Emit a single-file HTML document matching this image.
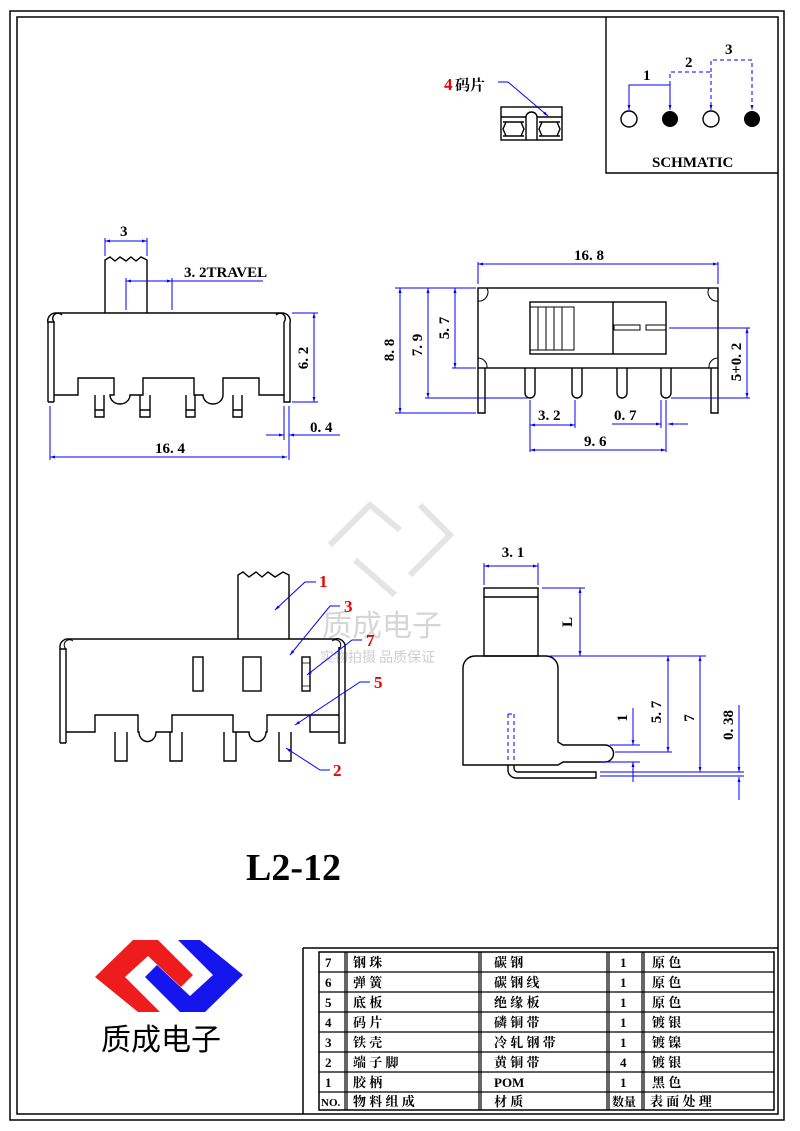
<!DOCTYPE html>
<html><head><meta charset="utf-8"><style>
html,body{margin:0;padding:0;background:#fff}
svg{display:block}
.k{stroke:#000;stroke-width:1.4;fill:none}
.b{stroke:#0000ff;stroke-width:1;fill:none}
.t{font-family:"Liberation Serif","Noto Serif CJK SC",serif;font-weight:bold;font-size:15px;fill:#000}
.r{font-family:"Liberation Serif",serif;font-weight:bold;font-size:17px;fill:#e00}
.tb{font-family:"Liberation Serif","Noto Serif CJK SC",serif;font-weight:bold;font-size:13px;fill:#000}
</style></head><body>
<svg width="800" height="1131" viewBox="0 0 800 1131" xmlns="http://www.w3.org/2000/svg">
<defs>
<marker id="a" viewBox="0 0 10 10" refX="10" refY="5" markerWidth="9" markerHeight="5" orient="auto-start-reverse"><path d="M0,2 L10,5 L0,8z" fill="#00f"/></marker>
</defs>
<rect x="10" y="11" width="774" height="1109" fill="none" stroke="#000" stroke-width="1.5"/>
<rect x="17" y="17" width="761" height="1097" fill="none" stroke="#000" stroke-width="1.5"/>

<!-- schematic -->
<polyline points="606,17 606,173 778,173" class="k"/>
<g class="b" stroke-width="1.5">
<polyline points="629,110 629,85 670,85 670,110" marker-start="url(#a)" marker-end="url(#a)"/>
<polyline points="670,85 670,72 711,72 711,110" stroke-dasharray="4,3" marker-end="url(#a)"/>
<polyline points="711,72 711,60 752,60 752,110" stroke-dasharray="4,3" marker-end="url(#a)"/>
</g>
<circle cx="629" cy="119" r="8" class="k" fill="#fff"/>
<circle cx="670" cy="119" r="8" fill="#000"/>
<circle cx="711" cy="119" r="8" class="k" fill="#fff"/>
<circle cx="752" cy="119" r="8" fill="#000"/>
<text x="643" y="80" class="t" font-size="21">1</text>
<text x="685" y="67" class="t" font-size="21">2</text>
<text x="725" y="54" class="t" font-size="21">3</text>
<text x="652" y="167" class="t" font-size="13">SCHMATIC</text>

<!-- 4码片 -->
<text x="444" y="90" class="r">4</text><text x="455" y="90" class="t" font-size="16">码片</text>
<polyline points="498,82 508,82 548,116" class="b" marker-end="url(#a)"/>
<rect x="501" y="107" width="61" height="33" class="k"/>
<path d="M501,117 H526 V140 M537,140 V117 H562 M526,117 a5.5,5 0 0 1 11,0" class="k" stroke-width="1"/>
<path d="M503,122 H524 M503,136 H524 M539,122 H560 M539,136 H560 M506,122 L503,129 L506,136 M521,122 L524,129 L521,136 M542,122 L539,129 L542,136 M557,122 L560,129 L557,136" class="k" stroke-width="0.8"/>

<!-- left front view -->
<g class="k">
<path d="M105,313 V260 L110,257 L115,261 L120,257 L126,261 L131,257 L136,261 L141,257 L147,260 V313"/>
<path d="M48,402 V323 a8,8 0 0 1 8,-10 H282 a8,8 0 0 1 8,10 V402 H284 V322 M54,402 V322 H48 M48,402 H54 M54,395 H78 V378 H114 V395 H110 a10,9 0 0 0 20,0 H143 V378 H194 V395 H203 a10,9 0 0 0 20,0 V378 H259 V395 H284"/>
<path d="M54,322 a5,5 0 0 1 8,-7 M284,322 a5,5 0 0 0 -8,-7"/>
<path d="M95,395 V417 H104 V395 M95,410 H104 M140,395 V417 H150 V395 M140,410 H150 M186,395 V417 H195 V395 M186,410 H195 M233,395 V417 H242 V395 M233,410 H242"/>
</g>
<g class="b">
<line x1="105" y1="238" x2="105" y2="256"/><line x1="147" y1="238" x2="147" y2="256"/>
<line x1="105" y1="241" x2="147" y2="241" marker-start="url(#a)" marker-end="url(#a)"/>
<line x1="126" y1="278" x2="126" y2="310"/><line x1="172" y1="278" x2="172" y2="310"/>
<line x1="126" y1="281" x2="172" y2="281" marker-start="url(#a)" marker-end="url(#a)"/>
<line x1="172" y1="281" x2="263" y2="281"/>
<line x1="292" y1="313" x2="318" y2="313"/><line x1="292" y1="402" x2="318" y2="402"/>
<line x1="314" y1="313" x2="314" y2="402" marker-start="url(#a)" marker-end="url(#a)"/>
<line x1="284" y1="406" x2="284" y2="440"/><line x1="289" y1="406" x2="289" y2="460"/>
<line x1="266" y1="435" x2="284" y2="435" marker-end="url(#a)"/>
<line x1="307" y1="435" x2="289" y2="435" marker-end="url(#a)"/><line x1="307" y1="435" x2="340" y2="435"/>
<line x1="50" y1="406" x2="50" y2="460"/>
<line x1="50" y1="457" x2="287" y2="457" marker-start="url(#a)" marker-end="url(#a)"/>
</g>
<text x="120" y="236" class="t">3</text>
<text x="184" y="277" class="t">3. 2TRAVEL</text>
<text x="308" y="358" class="t" transform="rotate(-90 308 358)" text-anchor="middle">6. 2</text>
<text x="310" y="432" class="t">0. 4</text>
<text x="155" y="453" class="t">16. 4</text>

<!-- right top view -->
<g class="k">
<rect x="478" y="288" width="240" height="80"/>
<path d="M478,368 V413 H485 V368 M711,368 V413 H718 V368"/>
<path d="M478,301 a9,9 0 0 0 9,-13 M718,301 a9,9 0 0 1 -9,-13 M478,358 a9,9 0 0 1 9,10 M718,358 a9,9 0 0 0 -9,10" stroke-width="1"/>
<rect x="530" y="302" width="136" height="52"/>
<line x1="613" y1="302" x2="613" y2="354"/>
<rect x="530" y="307" width="44" height="43" stroke-width="1"/>
<path d="M538,307 V350 M546,307 V350 M554,307 V350 M562,307 V350" stroke-width="1"/>
<rect x="614" y="325" width="26" height="5" stroke-width="1"/>
<rect x="646" y="325" width="20" height="5" stroke-width="1"/>
<path d="M525,368 V393 a5,5 0 0 0 10,0 V368 M572,368 V393 a5,5 0 0 0 10,0 V368 M617,368 V393 a5,5 0 0 0 10,0 V368 M661,368 V393 a5,5 0 0 0 10,0 V368"/>
</g>
<g class="b">
<line x1="478" y1="262" x2="478" y2="284"/><line x1="718" y1="262" x2="718" y2="284"/>
<line x1="478" y1="264" x2="718" y2="264" marker-start="url(#a)" marker-end="url(#a)"/>
<line x1="395" y1="288" x2="476" y2="288"/>
<line x1="395" y1="413" x2="476" y2="413"/><line x1="425" y1="398" x2="528" y2="398"/><line x1="452" y1="368" x2="476" y2="368"/>
<line x1="400" y1="288" x2="400" y2="413" marker-start="url(#a)" marker-end="url(#a)"/>
<line x1="428" y1="288" x2="428" y2="398" marker-start="url(#a)" marker-end="url(#a)"/>
<line x1="455" y1="288" x2="455" y2="368" marker-start="url(#a)" marker-end="url(#a)"/>
<line x1="669" y1="328" x2="750" y2="328"/><line x1="671" y1="398" x2="750" y2="398"/>
<line x1="747" y1="328" x2="747" y2="398" marker-start="url(#a)" marker-end="url(#a)"/>
<line x1="530" y1="400" x2="530" y2="452"/><line x1="575" y1="400" x2="575" y2="428"/>
<line x1="530" y1="425" x2="575" y2="425" marker-start="url(#a)" marker-end="url(#a)"/>
<line x1="661" y1="400" x2="661" y2="428"/><line x1="666" y1="400" x2="666" y2="452"/>
<line x1="612" y1="424" x2="661" y2="424" marker-end="url(#a)"/>
<line x1="688" y1="424" x2="668" y2="424" marker-end="url(#a)"/>
<line x1="530" y1="450" x2="666" y2="450" marker-start="url(#a)" marker-end="url(#a)"/>
</g>
<text x="574" y="260" class="t">16. 8</text>
<text x="394" y="350" class="t" transform="rotate(-90 394 350)" text-anchor="middle">8. 8</text>
<text x="422" y="345" class="t" transform="rotate(-90 422 345)" text-anchor="middle">7. 9</text>
<text x="449" y="328" class="t" transform="rotate(-90 449 328)" text-anchor="middle">5. 7</text>
<text x="741" y="362" class="t" transform="rotate(-90 741 362)" text-anchor="middle">5+0. 2</text>
<text x="538" y="420" class="t">3. 2</text>
<text x="614" y="420" class="t">0. 7</text>
<text x="584" y="446" class="t">9. 6</text>

<!-- watermark -->
<g fill="none" stroke="#e4e4e4" stroke-width="6">
<path d="M330,545 L370,505 L400,530 M420,505 L450,535 L410,575 M355,560 L395,595"/>
</g>
<text x="322" y="636" font-family="Noto Sans CJK SC,sans-serif" font-size="30" fill="#d6d6d6">质成电子</text>
<text x="320" y="662" font-family="Noto Sans CJK SC,sans-serif" font-size="14" fill="#cfcfcf">实物拍摄 品质保证</text>

<!-- lower left view -->
<g class="k">
<path d="M238,639 V575 L243,572 L249,577 L256,572 L262,577 L268,572 L275,577 L283,572 L289,575 V639"/>
<path d="M60,743 V648 a8,8 0 0 1 9,-9 H335 a8,8 0 0 1 10,9 V743 H339 V647 M66,743 V649 H60 M60,743 H66 M66,732 H95 V715 H138 V732 H139 a8,9 0 0 0 17,0 H172 V715 H233 V732 H249 a8,9 0 0 0 17,0 H267 V715 H310 V732 H339 V715 H310"/>
<path d="M66,649 a5,5 0 0 1 7,-8 M339,649 a5,5 0 0 0 -7,-8" stroke-width="1"/>
<rect x="193" y="657" width="10" height="34"/><rect x="243" y="657" width="18" height="34"/><rect x="302" y="657" width="8" height="34"/>
<path d="M302,663 H310 M302,686 H310" stroke-width="0.8"/>
<path d="M115,732 V761 H127 V732 M170,732 V761 H182 V732 M224,732 V761 H236 V732 M279,732 V761 H291 V732"/>
</g>
<g class="b">
<polyline points="316,582 305,582 275,610" marker-end="url(#a)"/>
<polyline points="340,606 330,606 290,655" marker-end="url(#a)"/>
<polyline points="362,640 352,640 307,675" marker-end="url(#a)"/>
<polyline points="370,682 360,682 295,725" marker-end="url(#a)"/>
<polyline points="330,770 320,770 286,748" marker-end="url(#a)"/>
</g>
<text x="319" y="587" class="r">1</text>
<text x="344" y="612" class="r">3</text>
<text x="366" y="646" class="r">7</text>
<text x="374" y="688" class="r">5</text>
<text x="333" y="776" class="r">2</text>

<!-- lower right side view -->
<g class="k">
<rect x="484" y="588" width="54" height="68"/>
<line x1="484" y1="597" x2="538" y2="597"/>
<path d="M463,765 V668 a12,12 0 0 1 12,-12 H546 a12,12 0 0 1 12,12 V742 L563,745 H605 a8.5,8.5 0 0 1 0,17 H563 L558,765 Z"/>
<path d="M508,765 V770 a8,8 0 0 0 8,8 H596 V772 H518 a4,4 0 0 1 -4,-4 V765"/>
<path d="M508,714 V760 M514,714 V760 M508,714 H514" stroke-width="1" stroke="#0000ff" stroke-dasharray="4,3"/>
</g>
<g class="b">
<line x1="484" y1="563" x2="484" y2="585"/><line x1="538" y1="563" x2="538" y2="585"/>
<line x1="484" y1="566" x2="538" y2="566" marker-start="url(#a)" marker-end="url(#a)"/>
<line x1="542" y1="588" x2="585" y2="588"/><line x1="550" y1="656" x2="706" y2="656"/>
<line x1="580" y1="588" x2="580" y2="656" marker-start="url(#a)" marker-end="url(#a)"/>
<line x1="610" y1="745" x2="640" y2="745"/><line x1="615" y1="752" x2="672" y2="752"/>
<line x1="633" y1="708" x2="633" y2="745" marker-end="url(#a)"/>
<line x1="600" y1="762" x2="640" y2="762"/>
<line x1="633" y1="770" x2="633" y2="762" marker-end="url(#a)"/><line x1="633" y1="770" x2="633" y2="782"/>
<line x1="668" y1="656" x2="668" y2="752" marker-start="url(#a)" marker-end="url(#a)"/>
<line x1="700" y1="656" x2="700" y2="772" marker-start="url(#a)" marker-end="url(#a)"/>
<line x1="600" y1="772" x2="744" y2="772"/><line x1="600" y1="776" x2="744" y2="776"/>
<line x1="739" y1="705" x2="739" y2="772" marker-end="url(#a)"/>
<line x1="739" y1="800" x2="739" y2="777" marker-end="url(#a)"/>
</g>
<text x="513" y="557" class="t" text-anchor="middle">3. 1</text>
<text x="572" y="622" class="t" transform="rotate(-90 572 622)" text-anchor="middle">L</text>
<text x="627" y="718" class="t" transform="rotate(-90 627 718)" text-anchor="middle">1</text>
<text x="661" y="712" class="t" transform="rotate(-90 661 712)" text-anchor="middle">5. 7</text>
<text x="694" y="718" class="t" transform="rotate(-90 694 718)" text-anchor="middle">7</text>
<text x="733" y="725" class="t" transform="rotate(-90 733 725)" text-anchor="middle">0. 38</text>

<text x="246" y="880" font-family="Liberation Serif,serif" font-weight="bold" font-size="38">L2-12</text>

<!-- logo -->
<polygon points="160,1012 138,1012 95,977 133,940 158,940 193,975 181,987 148,956 125,977" fill="#ee1c1c"/>
<polygon points="178,940 200,940 243,975 205,1012 180,1012 145,977 157,965 190,996 213,975" fill="#1515ee"/>
<text x="161" y="1050" text-anchor="middle" font-family="Noto Sans CJK SC,sans-serif" font-size="30" fill="#000">质成电子</text>

<!-- table -->
<g stroke="#000" fill="none">
<line x1="303" y1="948" x2="778" y2="948" stroke-width="1.5"/>
<line x1="303" y1="948" x2="303" y2="1114" stroke-width="1.5"/>
<rect x="319" y="952" width="455" height="158" stroke-width="1.5"/>
<path d="M345,952 V1110 M479,952 V1110 M607,952 V1110 M642,952 V1110 M347,952 V1110 M481,952 V1110 M609,952 V1110 M644,952 V1110" stroke-width="1.2"/>
<path d="M319,972 H774 M319,992 H774 M319,1012 H774 M319,1032 H774 M319,1052 H774 M319,1072 H774 M319,1092 H774" stroke-width="1.2"/>
</g>
<g class="tb">
<text x="325" y="967">7</text><text x="353" y="967">钢 珠</text><text x="494" y="967">碳 钢</text><text x="620" y="967">1</text><text x="652" y="967">原 色</text>
<text x="325" y="987">6</text><text x="353" y="987">弹 簧</text><text x="494" y="987">碳 钢 线</text><text x="620" y="987">1</text><text x="652" y="987">原 色</text>
<text x="325" y="1007">5</text><text x="353" y="1007">底 板</text><text x="494" y="1007">绝 缘 板</text><text x="620" y="1007">1</text><text x="652" y="1007">原 色</text>
<text x="325" y="1027">4</text><text x="353" y="1027">码 片</text><text x="494" y="1027">磷 铜 带</text><text x="620" y="1027">1</text><text x="652" y="1027">镀 银</text>
<text x="325" y="1047">3</text><text x="353" y="1047">铁 壳</text><text x="494" y="1047">冷 轧 钢 带</text><text x="620" y="1047">1</text><text x="652" y="1047">镀 镍</text>
<text x="325" y="1067">2</text><text x="353" y="1067">端 子 脚</text><text x="494" y="1067">黄 铜 带</text><text x="620" y="1067">4</text><text x="652" y="1067">镀 银</text>
<text x="325" y="1087">1</text><text x="353" y="1087">胶 柄</text><text x="494" y="1087">POM</text><text x="620" y="1087">1</text><text x="652" y="1087">黑 色</text>
<text x="321" y="1106" font-size="11">NO.</text><text x="353" y="1106">物 料 组 成</text><text x="494" y="1106">材 质</text><text x="612" y="1106" font-size="12">数量</text><text x="650" y="1106">表 面 处 理</text>
</g>
</svg>
</body></html>
